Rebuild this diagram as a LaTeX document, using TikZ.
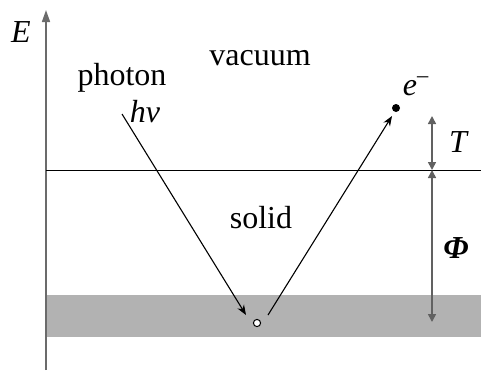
\documentclass[tikz,border=0pt]{standalone}
\usepackage{fontspec}
\setmainfont{Liberation Serif}
\usetikzlibrary{arrows.meta}
\begin{document}
\begin{tikzpicture}[x=0.5pt,y=0.5pt,font=\fontsize{16}{19}\selectfont,
  ray/.style={line width=0.55pt,-{Stealth[length=5pt,width=3.8pt,inset=1.6pt]}},
  gap/.style={black!62,line width=0.8pt,{Triangle[length=4pt,width=4pt]}-{Triangle[length=4pt,width=4pt]}},
  lbl/.style={anchor=base,inner sep=0pt}]
\useasboundingbox (0,0) rectangle (481,372);
\fill[black!30] (46,35) rectangle (481,77);
\draw[black!58,line width=0.8pt,-{Triangle[length=6pt,width=4pt]}] (46,2)--(46,362);
\draw[line width=0.45pt] (46,202)--(481,202);
\node[circle,draw,fill=white,inner sep=0pt,minimum size=3.6pt,line width=0.5pt] (hole) at (257,49) {};
\node[circle,fill,inner sep=0pt,minimum size=4pt] (el) at (396,264) {};
\coordinate (phstart) at (122,258);\coordinate (phend) at (246,57);
\coordinate (emstart) at (268,57);\coordinate (emend) at (392,256);
\draw[ray] (phstart)--(phend);
\draw[ray] (emstart)--(emend);
\coordinate (surf) at (432,202);\coordinate (ttop) at (432,256);\coordinate (phibot) at (432,50);
\draw[gap] (surf)--(ttop);
\draw[gap] (surf)--(phibot);
\node[lbl] (E) at (21,330) {\textit{E}};
\node[lbl] (photon) at (122,287) {photon};
\node[lbl] (hnu) at (145,250) {\textit{hν}};
\node[lbl] (vac) at (260,307) {vacuum};
\node[lbl] (solid) at (261,144) {solid};
\node[lbl] (elab) at (416,277) {\textit{e}\textsuperscript{–}};
\node[lbl] (T) at (459,220) {\textit{T}};
\node[lbl] (Phi) at (456,114) {\textbf{\textit{Φ}}};
\end{tikzpicture}
\end{document}
